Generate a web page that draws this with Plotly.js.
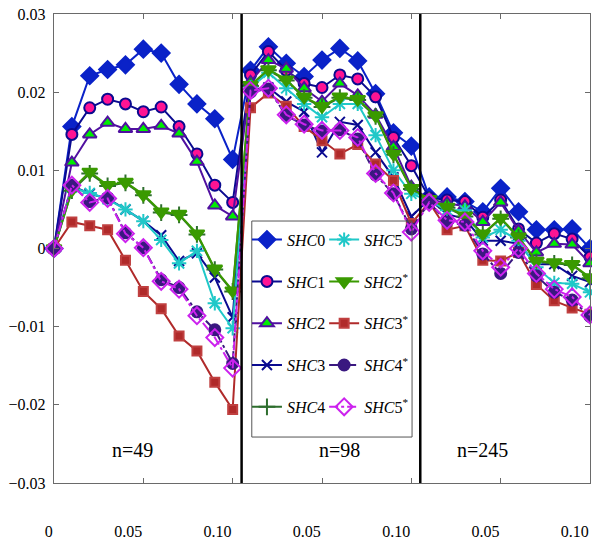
<!DOCTYPE html>
<html>
<head>
<meta charset="utf-8">
<script src="https://cdn.plot.ly/plotly-3.0.1.min.js"></script>
<style>html,body{margin:0;padding:0;background:#fff;}#chart{width:592px;height:544px;}</style>
</head>
<body>
<div id="chart"></div>
<script>
// x positions: panel n=49 (0..0.10), n=98 (0.01..0.10), n=245 (0.01..0.10) laid end to end
const xPos = [0,1,2,3,4,5,6,7,8,9,10,11,12,13,14,15,16,17,18,19,20,21,22,23,24,25,26,27,28,29,30];
const tickVals = [0,5,10,15,20,25,30];
const tickText = ['0','0.05','0.10','0.05','0.10','0.05','0.10'];
const panelBounds = [10.5, 20.5];
const panelLabels = ['n=49','n=98','n=245'];
const panelLabelX = [4.4, 16.0, 24.0];

const SHC0 = [0,0.0156,0.0221,0.0229,0.0235,0.0255,0.0250,0.0210,0.0185,0.0166,0.0114,
  0.0228,0.0258,0.0237,0.0220,0.0241,0.0256,0.0240,0.0198,0.0148,0.0131,
  0.0066,0.0066,0.0060,0.0047,0.0077,0.0047,0.0024,0.0024,0.0025,0.0000];
const SHC1 = [0,0.0146,0.0180,0.0191,0.0185,0.0175,0.0181,0.0156,0.0121,0.0081,0.0059,
  0.0222,0.0252,0.0228,0.0211,0.0206,0.0222,0.0217,0.0194,0.0142,0.0106,
  0.0065,0.0062,0.0060,0.0040,0.0062,0.0025,0.0007,0.0019,0.0012,-0.0011];
const SHC2 = [0,0.0110,0.0146,0.0161,0.0153,0.0153,0.0157,0.0147,0.0111,0.0055,0.0041,
  0.0213,0.0241,0.0230,0.0205,0.0188,0.0211,0.0196,0.0171,0.0130,0.0079,
  0.0063,0.0058,0.0054,0.0034,0.0059,0.0023,-0.0005,0.0006,0.0005,-0.0019];
const SHC3 = [0,0.0080,0.0070,0.0064,0.0050,0.0035,0.0017,-0.0016,-0.0006,-0.0037,-0.0088,
  0.0203,0.0206,0.0188,0.0175,0.0123,0.0162,0.0158,0.0123,0.0091,0.0041,
  0.0063,0.0044,0.0038,0.0010,0.0010,0.0006,-0.0020,-0.0020,-0.0035,-0.0043];
const SHC4 = [0,0.0074,0.0096,0.0080,0.0084,0.0068,0.0046,0.0043,0.0018,-0.0027,-0.0055,
  0.0208,0.0228,0.0215,0.0193,0.0181,0.0193,0.0190,0.0169,0.0120,0.0076,
  0.0062,0.0052,0.0041,0.0018,0.0038,0.0014,-0.0017,-0.0019,-0.0021,-0.0038];
const SHC5 = [0,0.0078,0.0071,0.0063,0.0050,0.0035,0.0011,-0.0019,-0.0003,-0.0070,-0.0102,
  0.0206,0.0225,0.0205,0.0185,0.0168,0.0185,0.0185,0.0145,0.0100,0.0070,
  0.0061,0.0049,0.0049,0.0014,0.0024,0.0010,-0.0024,-0.0044,-0.0045,-0.0056];
const SHC2s = [0,0.0075,0.0098,0.0081,0.0085,0.0069,0.0047,0.0044,0.0019,-0.0026,-0.0054,
  0.0209,0.0229,0.0216,0.0194,0.0182,0.0194,0.0191,0.0170,0.0121,0.0077,
  0.0063,0.0053,0.0042,0.0019,0.0039,0.0015,-0.0016,-0.0018,-0.0020,-0.0037];
const SHC3s = [0,0.0034,0.0029,0.0024,-0.0015,-0.0055,-0.0077,-0.0112,-0.0131,-0.0171,-0.0206,
  0.0180,0.0199,0.0182,0.0156,0.0138,0.0121,0.0133,0.0108,0.0087,0.0032,
  0.0059,0.0024,0.0029,-0.0015,-0.0016,-0.0005,-0.0046,-0.0067,-0.0076,-0.0084];
const SHC4s = [0,0.0081,0.0060,0.0065,0.0020,0.0001,-0.0040,-0.0050,-0.0081,-0.0104,-0.0147,
  0.0200,0.0204,0.0170,0.0158,0.0150,0.0152,0.0140,0.0094,0.0070,0.0025,
  0.0059,0.0034,0.0030,-0.0007,-0.0032,-0.0005,-0.0035,-0.0056,-0.0066,-0.0087];
const SHC5s = [0,0.0081,0.0059,0.0064,0.0019,0.0001,-0.0042,-0.0052,-0.0086,-0.0114,-0.0153,
  0.0202,0.0205,0.0171,0.0159,0.0151,0.0151,0.0142,0.0096,0.0071,0.0021,
  0.0059,0.0036,0.0034,-0.0003,-0.0024,0.0000,-0.0032,-0.0052,-0.0062,-0.0085];

const FONT = 'Liberation Serif';

function tr(name, y, legend, color, symbol, mcolor, mline, msize, dash, group) {
  return {
    x: xPos, y: y, name: name, type: 'scatter', mode: 'lines+markers',
    legend: legend, legendgroup: group, cliponaxis: false,
    line: {color: color, width: 2, dash: dash || 'solid'},
    marker: {symbol: symbol, size: msize, color: mcolor, line: {color: mline, width: 2}}
  };
}

const traces = [
  tr('<i>SHC</i>0', SHC0, 'legend', '#0a22c8', 'diamond', '#0a22c8', '#0a22c8', 13, 'solid', 'a'),
  tr('<i>SHC</i>1', SHC1, 'legend', '#0a0a90', 'circle', '#ff1493', '#0a0a90', 11, 'solid', 'b'),
  tr('<i>SHC</i>2', SHC2, 'legend', '#5010a0', 'triangle-up', '#00ee00', '#5010a0', 12, 'solid', 'c'),
  tr('<i>SHC</i>3', SHC3, 'legend', '#0a0a90', 'x-thin-open', '#0a0a90', '#0a0a90', 10, 'solid', 'd'),
  tr('<i>SHC</i>4', SHC4, 'legend', '#2e6e2e', 'cross-thin-open', '#2e6e2e', '#2e6e2e', 12, 'solid', 'e'),
  tr('<i>SHC</i>5', SHC5, 'legend2', '#20c8c8', 'asterisk-open', '#20c8c8', '#20c8c8', 12, 'solid', 'f'),
  tr('<i>SHC</i>2<sup>*</sup>', SHC2s, 'legend2', '#3a9a00', 'triangle-down', '#3a9a00', '#3a9a00', 13, 'solid', 'g'),
  tr('<i>SHC</i>3<sup>*</sup>', SHC3s, 'legend2', '#b02a2a', 'square', '#b02a2a', '#c04040', 9, 'solid', 'h'),
  tr('<i>SHC</i>4<sup>*</sup>', SHC4s, 'legend2', '#3a1880', 'circle', '#3a1880', '#3a1880', 11, 'dashdot', 'i'),
  tr('<i>SHC</i>5<sup>*</sup>', SHC5s, 'legend2', '#cc22ee', 'diamond-open', '#cc22ee', '#cc22ee', 13, 'dashdot', 'j')
];

const shapes = panelBounds.map(b => ({
  type: 'line', xref: 'x', yref: 'paper', x0: b, x1: b, y0: 0, y1: 1,
  line: {color: '#000', width: 2.5}, layer: 'above'
}));
shapes.push({type: 'rect', xref: 'paper', yref: 'paper', x0: 0.369, x1: 0.668, y0: 0.098, y1: 0.5586,
  line: {color: '#555', width: 1}, fillcolor: 'rgba(255,255,255,0)', layer: 'above'});

const annotations = panelLabels.map((t, i) => ({
  x: panelLabelX[i], y: -0.0258, xref: 'x', yref: 'y', text: t, showarrow: false,
  font: {family: FONT, size: 20, color: '#000'}
}));

const legendCommon = {
  bgcolor: 'rgba(0,0,0,0)', borderwidth: 0, traceorder: 'grouped', tracegroupgap: 18,
  font: {family: FONT, size: 16, color: '#000'}, itemwidth: 30, xanchor: 'left', yanchor: 'top'
};

const layout = {
  width: 592, height: 544,
  margin: {l: 54, r: 2, t: 14, b: 61},
  paper_bgcolor: '#fff', plot_bgcolor: '#fff',
  font: {family: FONT, size: 16, color: '#000'},
  showlegend: true,
  legend: Object.assign({x: 0.360, y: 0.555}, legendCommon),
  legend2: Object.assign({x: 0.504, y: 0.555}, legendCommon),
  xaxis: {
    range: [0, 30], tickmode: 'array', tickvals: tickVals, ticktext: tickText,
    showgrid: false, zeroline: false, showline: true, mirror: 'allticks',
    linecolor: '#6a6a6a', linewidth: 1.3, ticks: 'inside', ticklen: 5, tickcolor: '#6a6a6a',
    ticklabelposition: 'outside left', ticklabelstandoff: 33,
    tickfont: {family: FONT, size: 16, color: '#000'}
  },
  yaxis: {
    range: [-0.03, 0.03], tickvals: [-0.03,-0.02,-0.01,0,0.01,0.02,0.03],
    ticktext: ['\u22120.03','\u22120.02','\u22120.01','0','0.01','0.02','0.03'],
    showgrid: false, zeroline: false, showline: true, mirror: 'allticks',
    linecolor: '#6a6a6a', linewidth: 1.3, ticks: 'inside', ticklen: 5, tickcolor: '#6a6a6a',
    ticklabelstandoff: 4,
    tickfont: {family: FONT, size: 16, color: '#000'}
  },
  shapes: shapes,
  annotations: annotations
};

Plotly.newPlot('chart', traces, layout, {displayModeBar: false, staticPlot: true});
</script>
</body>
</html>
